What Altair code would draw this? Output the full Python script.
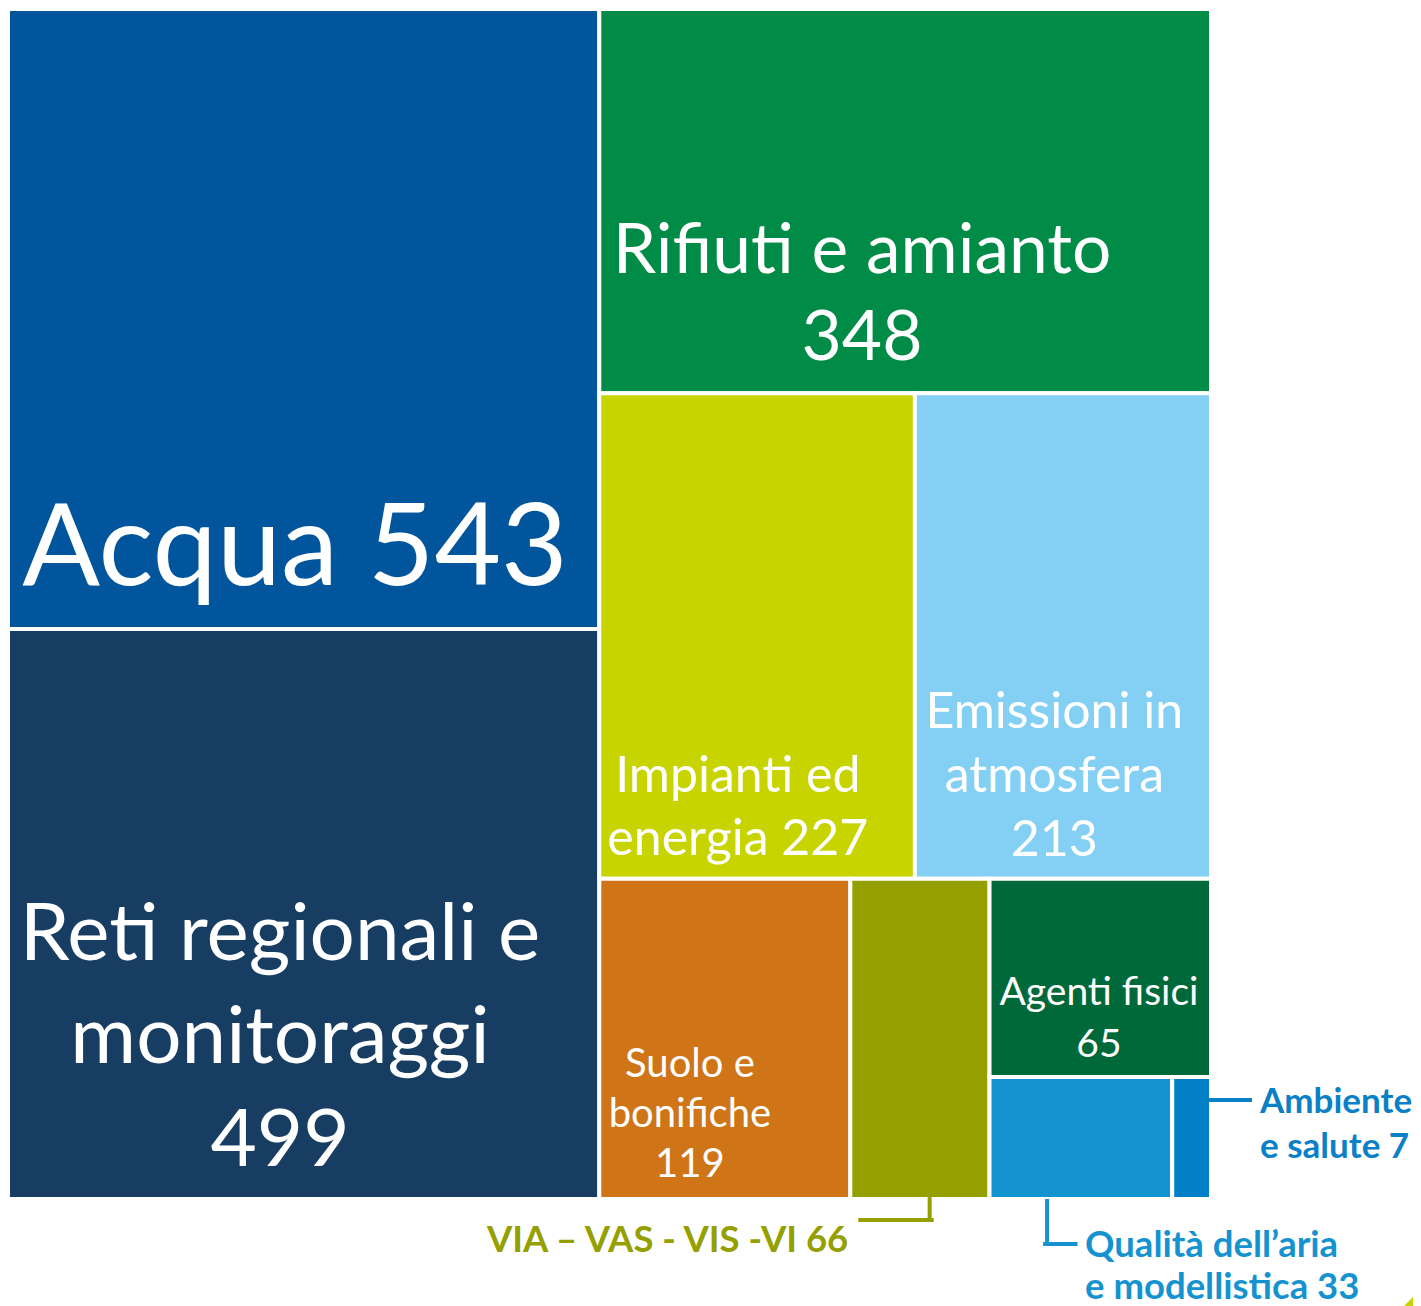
import altair as alt
import pandas as pd

# ---------------- data ----------------
categories = [
    "Acqua", "Reti regionali e monitoraggi", "Rifiuti e amianto",
    "Impianti ed energia", "Emissioni in atmosfera", "Suolo e bonifiche",
    "VIA – VAS - VIS -VI", "Agenti fisici", "Qualità dell’aria e modellistica",
    "Ambiente e salute",
]
values = [543, 499, 348, 227, 213, 119, 66, 65, 33, 7]
label_lines = [
    ["Acqua 543"],
    ["Reti regionali e", "monitoraggi", "499"],
    ["Rifiuti e amianto", "348"],
    ["Impianti ed", "energia 227"],
    ["Emissioni in", "atmosfera", "213"],
    ["Suolo e", "bonifiche", "119"],
    ["VIA – VAS - VIS -VI 66"],
    ["Agenti fisici", "65"],
    ["Qualità dell’aria", "e modellistica 33"],
    ["Ambiente", "e salute 7"],
]
# grouping of the slice-and-dice treemap (indices into categories)
hierarchy = [[0, 1], [2, [3, 4], [5, 6, [7, [8, 9]]]]]

# ---------------- styles ----------------
colors = ["#01559C", "#173D63", "#008C46", "#C8D400", "#84D0F4",
          "#CF7517", "#95A000", "#00693A", "#1394D1", "#0180C8"]
ext_colors = {6: "#959F00", 8: "#1593D0", 9: "#0A80C6"}

W, H = 1405, 1298
BOX = (0.0, 1.0, 1203.0, 1191.0)  # treemap box in plot units


def total(node):
    return values[node] if isinstance(node, int) else sum(total(c) for c in node)


def layout(node, x0, y0, x1, y1, depth, out):
    if isinstance(node, int):
        out[node] = (x0, y0, x1, y1)
        return
    t = total(node)
    pos = x0 if depth % 2 == 0 else y0
    for c in node:
        f = total(c) / t
        if depth % 2 == 0:
            w = (x1 - x0) * f
            layout(c, pos, y0, pos + w, y1, depth + 1, out)
            pos += w
        else:
            h = (y1 - y0) * f
            layout(c, x0, pos, x1, pos + h, depth + 1, out)
            pos += h


rects = {}
layout(hierarchy, *BOX, 0, rects)

rect_df = pd.DataFrame([
    {"cat": categories[i], "value": values[i], "x": r[0], "y": r[1],
     "x2": r[2], "y2": r[3], "color": colors[i]}
    for i, r in rects.items()
])

# inner label placement: (fx, fy of first baseline, font size, line height, align)
inner = {
    0: (0.024, 0.929, 115, 100, "left"),
    1: (0.46, 0.581, 80, 103, "center"),
    2: (0.4295, 0.687, 69.5, 87, "center"),
    3: (0.439, 0.821, 50, 63, "center"),
    4: (0.471, 0.689, 50, 64, "center"),
    5: (0.361, 0.619, 40, 50, "center"),
    7: (0.494, 0.636, 39, 52, "center"),
}

text_rows = []
for i, (fx, fy, fs, lh, al) in inner.items():
    x0, y0, x1, y1 = rects[i]
    for k, line in enumerate(label_lines[i]):
        text_rows.append({"t": line, "x": x0 + fx * (x1 - x0),
                          "y": y0 + fy * (y1 - y0) + k * lh, "size": fs,
                          "align": al, "color": "white", "weight": "normal"})

# external labels
vx0, vy0, vx1, vy1 = rects[6]
qx0, qy0, qx1, qy1 = rects[8]
ax0, ay0, ax1, ay1 = rects[9]
ext = [
    (6, vx0 - 2, vy1 + 53, 36.5, 45, "right"),
    (8, qx0 + 95.5, qy1 + 58, 36.5, 42, "left"),
    (9, ax1 + 49, ay0 + 36, 35, 45, "left"),
]
for i, x, y, fs, lh, al in ext:
    for k, line in enumerate(label_lines[i]):
        text_rows.append({"t": line, "x": x, "y": y + k * lh, "size": fs,
                          "align": al, "color": ext_colors[i], "weight": "bold"})

text_df = pd.DataFrame(text_rows)

# connectors
vcx = vx0 + 0.57 * (vx1 - vx0)
qcx = qx0 + 0.315 * (qx1 - qx0)
seg_rows = [
    {"x": vcx, "y": vy1 - 1, "x2": vcx, "y2": vy1 + 21, "color": ext_colors[6]},
    {"x": vcx + 2, "y": vy1 + 21, "x2": vx0 + 10, "y2": vy1 + 21, "color": ext_colors[6]},
    {"x": qcx, "y": qy1 + 2, "x2": qcx, "y2": qy1 + 45, "color": ext_colors[8]},
    {"x": qcx - 2, "y": qy1 + 45, "x2": qx0 + 86, "y2": qy1 + 45, "color": ext_colors[8]},
    {"x": ax1 - 2, "y": ay0 + 23, "x2": ax1 + 39, "y2": ay0 + 23, "color": ext_colors[9]},
]
seg_df = pd.DataFrame(seg_rows)

xs = alt.Scale(domain=[0, W], nice=False, zero=False)
ys = alt.Scale(domain=[0, H], nice=False, zero=False, reverse=True)

rect_layer = alt.Chart(rect_df).mark_rect(stroke="white", strokeWidth=4).encode(
    x=alt.X("x:Q", scale=xs, axis=None),
    x2="x2:Q",
    y=alt.Y("y:Q", scale=ys, axis=None),
    y2="y2:Q",
    color=alt.Color("color:N", scale=None),
    tooltip=["cat:N", "value:Q"],
)


def text_layer(df, align, weight, font):
    return alt.Chart(df).mark_text(align=align, baseline="alphabetic",
                                   font=font, fontWeight=weight).encode(
        x=alt.X("x:Q", scale=xs, axis=None),
        y=alt.Y("y:Q", scale=ys, axis=None),
        text="t:N",
        size=alt.Size("size:Q", scale=None, legend=None),
        color=alt.Color("color:N", scale=None),
    )


layers = [rect_layer]
for al in ["left", "center", "right"]:
    for wt, font in [("normal", "Lato"), ("bold", "Lato")]:
        sub = text_df[(text_df["align"] == al) & (text_df["weight"] == wt)]
        if len(sub):
            layers.append(text_layer(sub, al, wt, font))

seg_layer = alt.Chart(seg_df).mark_rule(strokeWidth=4, strokeCap="square").encode(
    x=alt.X("x:Q", scale=xs, axis=None),
    x2="x2:Q",
    y=alt.Y("y:Q", scale=ys, axis=None),
    y2="y2:Q",
    color=alt.Color("color:N", scale=None),
)
layers.append(seg_layer)

corner_df = pd.DataFrame({"x": [1404], "y": [1290]})
corner = alt.Chart(corner_df).mark_point(
    shape="M -1 1 L 1 -1 L 1 1 Z", filled=True, color="#C8D400", opacity=1, size=6400
).encode(
    x=alt.X("x:Q", scale=xs, axis=None),
    y=alt.Y("y:Q", scale=ys, axis=None),
)
layers.append(corner)

chart = alt.layer(*layers).properties(
    width=W, height=H, autosize=alt.AutoSizeParams(type="none"), padding=0
).configure_view(stroke=None)

chart.save("out.html", embed_options={"renderer": "svg", "actions": False})
